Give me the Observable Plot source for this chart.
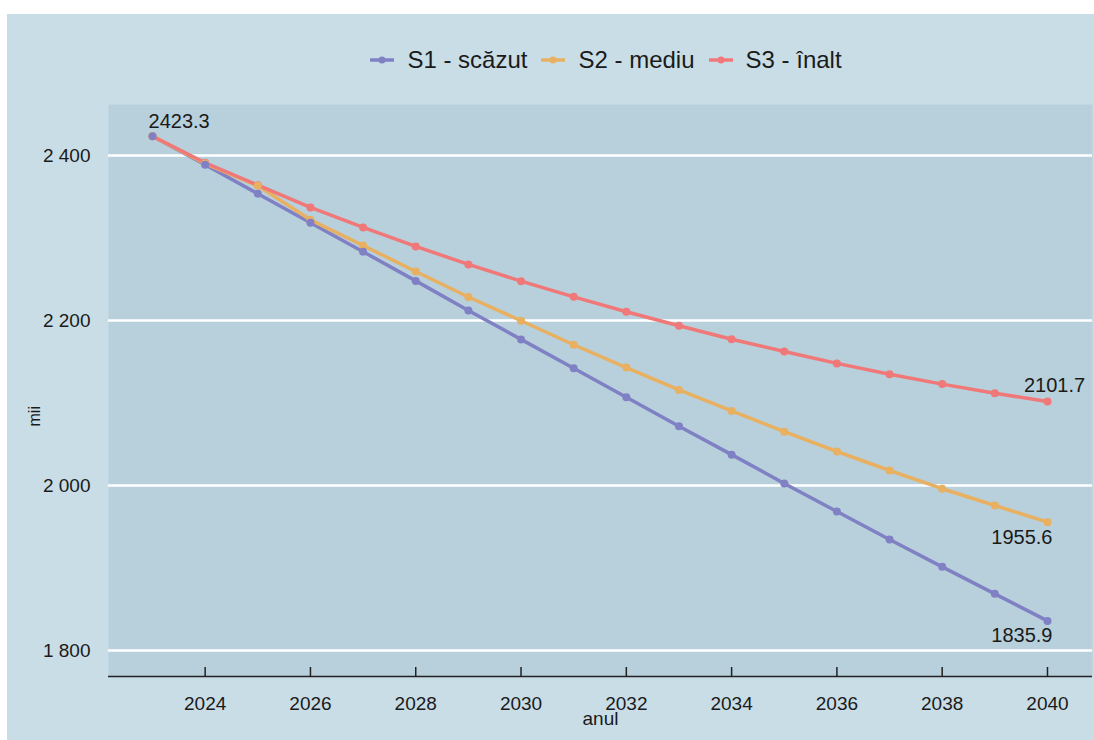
<!DOCTYPE html>
<html lang="ro">
<head>
<meta charset="utf-8">
<script src="https://cdn.jsdelivr.net/npm/d3@7"></script>
<script src="https://cdn.jsdelivr.net/npm/@observablehq/plot@0.6"></script>
<style>
  html, body { margin: 0; padding: 0; background: #ffffff; }
  #card {
    position: absolute; left: 7px; top: 14px; width: 1087px; height: 726px;
    background: #c9dde7;
    font-family: "Liberation Sans", Arial, Helvetica, sans-serif; color: #1a1a1a;
  }
  #legend {
    height: 80px; box-sizing: border-box; padding-top: 12px; padding-left: 111px;
    display: flex; justify-content: center; align-items: center; gap: 14px;
    font-size: 24px;
  }
  #legend .item { display: flex; align-items: center; gap: 13px; }
  #legend svg { display: block; }
  #chart svg { display: block; overflow: visible; }
</style>
</head>
<body>
<div id="card">
  <div id="legend"></div>
  <div id="chart"></div>
</div>
<script>
// Population projection, thousands, by scenario
const years = [2023, 2024, 2025, 2026, 2027, 2028, 2029, 2030, 2031, 2032, 2033, 2034, 2035, 2036, 2037, 2038, 2039, 2040];
const seriesNames = ["S1 - scăzut", "S2 - mediu", "S3 - înalt"];
const seriesColors = ["#8080c4", "#e8b060", "#f07878"];
const s1Low = [2423.3, 2388.9, 2353.6, 2318.5, 2283.4, 2248.0, 2212.2, 2177.1, 2142.2, 2107.0, 2071.9, 2037.4, 2002.5, 1968.5, 1934.5, 1901.4, 1868.7, 1835.9];
const s2Mid = [2423.3, 2390.2, 2363.3, 2322.0, 2290.9, 2259.4, 2228.5, 2199.7, 2170.6, 2143.0, 2115.8, 2090.4, 2065.3, 2041.2, 2018.2, 1996.1, 1975.8, 1955.6];
const s3High = [2423.3, 2391.2, 2364.0, 2337.0, 2312.8, 2289.8, 2268.0, 2247.7, 2228.7, 2210.6, 2193.6, 2177.3, 2162.4, 2148.0, 2134.9, 2122.9, 2111.9, 2101.7];
const xTicks = [2024, 2026, 2028, 2030, 2032, 2034, 2036, 2038, 2040];
const yTicks = [1800, 2000, 2200, 2400];
const xLabel = "anul";
const yLabel = "mii";

const seriesValues = [s1Low, s2Mid, s3High];
const rows = seriesNames.flatMap((name, s) =>
  years.map((year, i) => ({series: name, year, value: seriesValues[s][i]}))
);

const xDomain = [2022.164, 2040.855];
const yDomain = [1768.5, 2461.8];
const innerHeight = 646 - 10 - 64;
const tickLen = 9 * (yDomain[1] - yDomain[0]) / innerHeight; // 9px in data units

const fmtThousands = d3.formatLocale({decimal: ".", thousands: " ", grouping: [3], currency: ["", ""]}).format(",");
const fmtValue = d => d.value.toFixed(1);
const last = name => rows.filter(d => d.series === name && d.year === years[years.length - 1]);

// Legend
const legend = document.getElementById("legend");
seriesNames.forEach((name, i) => {
  const item = document.createElement("div");
  item.className = "item";
  item.innerHTML =
    `<svg width="24" height="12"><line x1="0" y1="6" x2="24" y2="6" stroke="${seriesColors[i]}" stroke-width="3.5"/>` +
    `<circle cx="12" cy="6" r="3.5" fill="${seriesColors[i]}"/></svg><span>${name}</span>`;
  legend.appendChild(item);
});

const chart = Plot.plot({
  width: 1087,
  height: 646,
  marginLeft: 101,
  marginRight: 2,
  marginTop: 10,
  marginBottom: 64,
  style: {background: "transparent", fontFamily: "'Liberation Sans', Arial, Helvetica, sans-serif", color: "#1a1a1a", overflow: "visible"},
  x: {domain: xDomain},
  y: {domain: yDomain},
  color: {domain: seriesNames, range: seriesColors},
  marks: [
    Plot.frame({fill: "#b7d0db", stroke: "none"}),
    Plot.ruleY(yTicks, {stroke: "#ffffff", strokeWidth: 2.5}),
    Plot.ruleY([yDomain[0]], {stroke: "#222222", strokeWidth: 1.5}),
    Plot.ruleX(xTicks, {x: d => d, y1: yDomain[0], y2: yDomain[0] + tickLen, stroke: "#222222", strokeWidth: 1.5}),
    Plot.axisY({ticks: yTicks, tickSize: 0, tickPadding: 18, tickFormat: fmtThousands, fontSize: 19, label: null}),
    Plot.axisX({ticks: xTicks, tickSize: 0, tickPadding: 20, tickFormat: d => String(d), fontSize: 19, label: null}),
    Plot.text([xLabel], {frameAnchor: "bottom", dy: 48, fontSize: 19}),
    Plot.text([yLabel], {frameAnchor: "left", dx: -74, dy: 36, rotate: -90, fontSize: 16}),
    Plot.line(rows, {x: "year", y: "value", z: "series", stroke: "series", strokeWidth: 3.5}),
    Plot.dot(rows.slice().reverse(), {x: "year", y: "value", fill: "series", r: 4}),
    Plot.text(rows.filter(d => d.series === seriesNames[0] && d.year === years[0]),
      {x: "year", y: "value", text: fmtValue, textAnchor: "start", dx: -4, dy: -15, fontSize: 20, fill: "#1a1a1a"}),
    Plot.text(last(seriesNames[2]),
      {x: "year", y: "value", text: fmtValue, textAnchor: "middle", dx: 7, dy: -16, fontSize: 20, fill: "#1a1a1a"}),
    Plot.text([...last(seriesNames[1]), ...last(seriesNames[0])],
      {x: "year", y: "value", text: fmtValue, textAnchor: "end", dx: 5, dy: 15, fontSize: 20, fill: "#1a1a1a"})
  ]
});
document.getElementById("chart").appendChild(chart);
</script>
</body>
</html>
